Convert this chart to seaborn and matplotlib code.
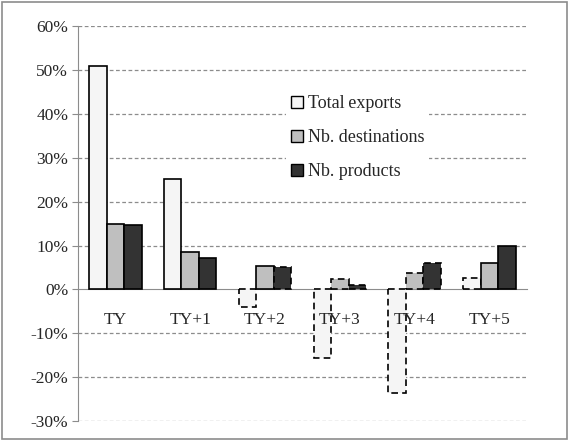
import pandas as pd
import seaborn as sns
import matplotlib.pyplot as plt
from matplotlib.patches import Rectangle

# values in percent
periods = ["TY", "TY+1", "TY+2", "TY+3", "TY+4", "TY+5"]
total_exports = [51.0, 25.2, -3.9, -15.7, -23.7, 2.7]
nb_destinations = [15.0, 8.6, 5.4, 2.3, 3.7, 6.0]
nb_products = [14.7, 7.1, 5.0, 1.0, 6.1, 9.8]
# True = significant (solid outline), False = dashed outline
sig_total = [True, True, False, False, False, False]
sig_dest = [True, True, True, False, False, True]
sig_prod = [True, True, False, False, False, True]

series = ["Total exports", "Nb. destinations", "Nb. products"]
labels_shown = ["Total\u2009exports", "Nb. destinations", "Nb. products"]
colors = ["#f5f5f5", "#bfbfbf", "#333333"]

df = pd.DataFrame({
    "period": periods * 3,
    "series": [s for s in series for _ in periods],
    "value": total_exports + nb_destinations + nb_products,
})

sns.set_style("white")
plt.rcParams["font.family"] = ["Liberation Serif", "DejaVu Serif"]
plt.rcParams["font.size"] = 12.5

fig = plt.figure(figsize=(5.69, 4.41), dpi=100)
ax = fig.add_axes([0.137, 0.045, 0.789, 0.896])

sns.barplot(data=df, x="period", y="value", hue="series", hue_order=series,
            palette=colors, width=0.7, gap=0, saturation=1, ax=ax,
            edgecolor="black", linewidth=1.2, errorbar=None, legend=False)

sig = [sig_total, sig_dest, sig_prod]
for cont, flags in zip(ax.containers, sig):
    for bar, ok in zip(cont, flags):
        if not ok:
            bar.set_linestyle((0, (4, 2.5)))

ax.set_ylim(-30, 60)
ax.set_xlim(-0.5, 5.5)
ax.set_yticks(range(-30, 61, 10))
ax.set_yticklabels([f"{v}%" for v in range(-30, 61, 10)])
for v in range(-30, 61, 10):
    if v != 0:
        ax.axhline(v, color="#8c8c8c", linestyle=(0, (3, 2)), linewidth=0.9, zorder=0)

ax.set_axisbelow(False)
for s in ["top", "right"]:
    ax.spines[s].set_visible(False)
ax.spines["left"].set_color("#8c8c8c")
ax.spines["bottom"].set_color("#8c8c8c")
ax.spines["bottom"].set_position(("data", 0))
ax.spines["bottom"].set_zorder(0.5)

ax.set_xticks([i - 0.5 for i in range(7)], minor=True)
ax.tick_params(axis="x", which="minor", length=4, color="#8c8c8c", direction="out")
ax.tick_params(axis="x", which="major", length=0, pad=16)
ax.tick_params(axis="y", length=4, color="#8c8c8c", direction="out", left=True, pad=3)
ax.set_xlabel("")
ax.set_ylabel("")

handles = [Rectangle((0, 0), 1, 1, facecolor=c, edgecolor="black", linewidth=1) for c in colors]
leg = ax.legend(handles, labels_shown, loc="upper left", bbox_to_anchor=(0.443, 0.862),
                frameon=True, facecolor="white", edgecolor="none", framealpha=1,
                handlelength=0.65, handleheight=0.65, handletextpad=0.25,
                labelspacing=0.95, borderpad=0.3, fontsize=13)

fig.patches.append(Rectangle((0.004, 0.005), 0.992, 0.99, transform=fig.transFigure,
                             fill=False, edgecolor="#8c8c8c", linewidth=1.2))

fig.savefig("out.png", dpi=100)
